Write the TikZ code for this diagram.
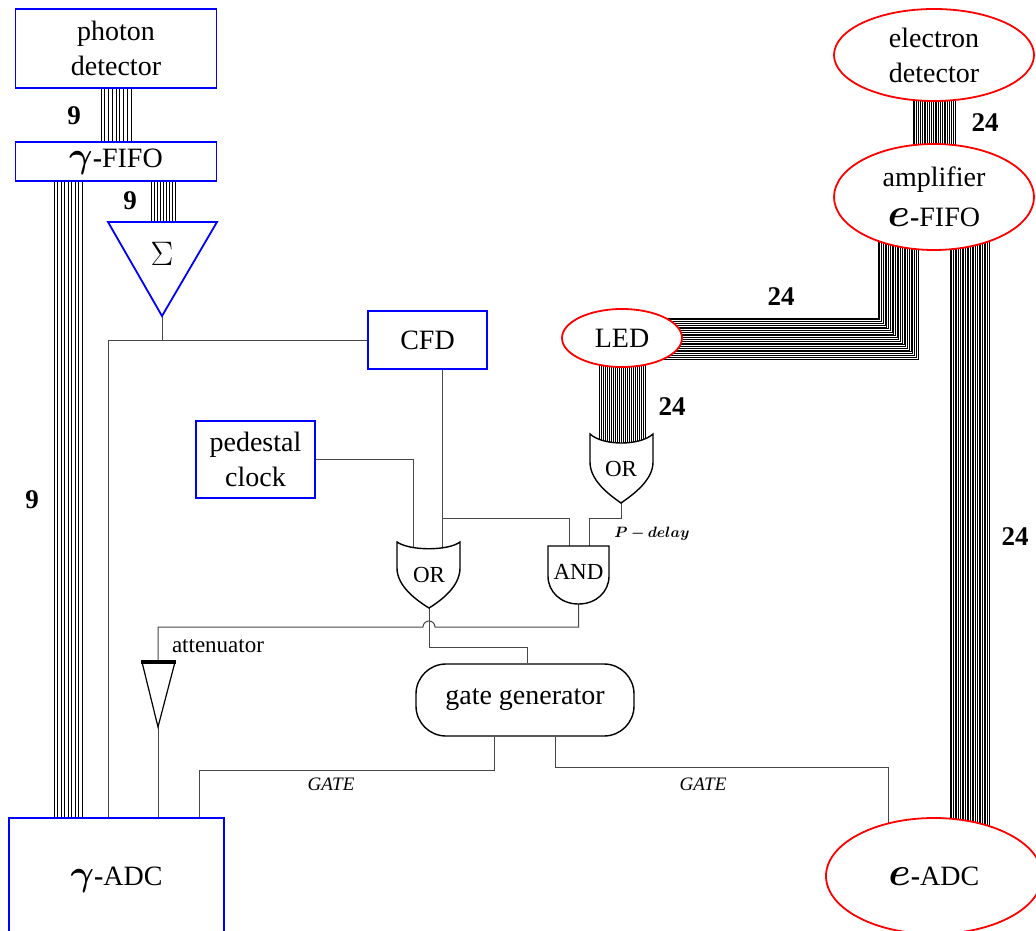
\RequirePackage{fix-cm}
\documentclass[tikz,border=0pt]{standalone}
\usepackage{bm}
\usepackage{graphicx}
\usepackage[no-math]{fontspec}
\setmainfont{Liberation Serif}
\usetikzlibrary{shapes.geometric}
\pgfdeclarelayer{bg}
\pgfsetlayers{bg,main}
\newcommand\mainsz{\fontsize{28}{35}\selectfont}
\newcommand\gsym{{\fontsize{20}{20}\selectfont\scalebox{1.8}{$\bm{\gamma}$}}}
\newcommand\esym{{\fontsize{20}{20}\selectfont\scalebox{2.0}{$\bm{e}$}}}
\newcommand\pdel{$\bm{P-delay}$}
\begin{document}
\begin{tikzpicture}[x=1pt,y=-1pt,
  conn/.style={draw=black!72, line width=1pt},
  wire/.style={draw=black, line width=0.6pt},
  ewire/.style={draw=black, line width=0.8pt},
  bluebox/.style={draw=blue, line width=1.8pt, fill=white, rectangle, inner sep=0pt, align=center, font=\mainsz},
  redell/.style={draw=red, line width=1.8pt, fill=white, ellipse, inner sep=0pt, align=center, font=\mainsz},
  gatesh/.style={draw=black, line width=1.4pt, fill=white},
  num/.style={font=\fontsize{27}{27}\selectfont\bfseries},
  glabel/.style={font=\fontsize{23}{23}\selectfont},
  itlabel/.style={font=\fontsize{19}{19}\selectfont\itshape}
]
\useasboundingbox (0,0) rectangle (1036,931);
\clip (0,0) rectangle (1036,931);

% ---------- nodes ----------
\node[bluebox, minimum width=201pt, minimum height=79pt] (pd) at (116,48.5) {photon\\detector};
\node[bluebox, minimum width=201pt, minimum height=39pt] (fifo) at (116,161.5) {\gsym\textbf{-}FIFO};
\draw[draw=blue, line width=1.8pt, fill=white] (108,222) -- (217,222) -- (162,316) -- cycle;
\coordinate (sigtop) at (162,222);
\coordinate (sigapex) at (162,316);
\node[font=\fontsize{20}{20}\selectfont] (sig) at (162,254) {\scalebox{1.7}{$\Sigma$}};
\node[bluebox, minimum width=119pt, minimum height=58pt] (cfd) at (427.5,340) {CFD};
\node[bluebox, minimum width=119pt, minimum height=77pt] (ped) at (255.5,459.5) {pedestal\\clock};
\node[bluebox, minimum width=215pt, minimum height=124pt] (gadc) at (116.5,880) {\gsym\textbf{-}ADC};

\node[redell, minimum width=200pt, minimum height=92pt] (edet) at (934,55) {electron\\detector};
\node[redell, minimum width=200pt, minimum height=106pt] (amp) at (934,197) {amplifier\\[5pt]\esym\textbf{-}FIFO};
\node[redell, minimum width=120pt, minimum height=58pt] (led) at (622,338) {LED};
\node[redell, minimum width=216pt, minimum height=116pt] (eadc) at (934,876) {\esym\textbf{-}ADC};

\node[draw=black, line width=1.4pt, fill=white, rounded corners=30pt, minimum width=218pt, minimum height=72pt, inner sep=0pt, font=\mainsz] (gg) at (525,700) {gate generator};

% gates
\draw[gatesh] (397,542) .. controls (410,551) and (448,551) .. (460,542) -- (460,568) .. controls (460,586) and (442,600) .. (429,608) .. controls (416,600) and (397,586) .. (397,568) -- cycle;
\node[glabel] (or1) at (429,575) {OR};
\coordinate (or1in1) at (413.5,552);
\coordinate (or1in2) at (442.5,552);
\coordinate (or1out) at (429,608);

\draw[gatesh] (590,434) .. controls (603,446) and (640,446) .. (653,434) -- (653,462) .. controls (653,480) and (634,494) .. (621,503) .. controls (608,494) and (590,480) .. (590,462) -- cycle;
\node[glabel] (or2) at (621,469) {OR};
\coordinate (or2in) at (621,448);
\coordinate (or2out) at (621,503);

\draw[gatesh] (548,546) -- (609,546) -- (609,576) .. controls (609,592) and (596,604) .. (578.5,604) .. controls (561,604) and (548,592) .. (548,576) -- cycle;
\node[glabel] (and) at (578.5,572) {AND};
\coordinate (andin1) at (569,550);
\coordinate (andin2) at (589,550);
\coordinate (andout) at (578.5,604);

% attenuator
\draw[line width=1.2pt, fill=white] (142,662) -- (175,662) -- (158,727) -- cycle;
\draw[line width=4pt] (141,662) -- (176,662);
\coordinate (atttop) at (158,662);
\coordinate (attapex) at (158,727);

% labels
\node[num] (n1) at (74,116) {9};
\node[num] (n2) at (130,201) {9};
\node[num] (n3) at (32,500) {9};
\node[num] (n4) at (985,123) {24};
\node[num] (n5) at (781,297) {24};
\node[num] (n6) at (672,407) {24};
\node[num] (n7) at (1015,537) {24};
\node[font=\fontsize{15}{15}\selectfont] (pdl) at (652,534) {\pdel};
\node[glabel] (attl) at (218,646) {attenuator};
\node[itlabel] (g1) at (331,784) {GATE};
\node[itlabel] (g2) at (703,784) {GATE};

% ---------- connectors (background) ----------
\begin{pgfonlayer}{bg}
  % bundles of 9
  \foreach \i in {0,...,8} {
    \draw[wire] ([xshift={-15pt+\i*3.75pt}]pd.center) -- ([xshift={-15pt+\i*3.75pt}]fifo.center);
    \draw[wire] ([xshift={35pt+\i*3pt}]fifo.center) -- ([xshift={35pt+\i*3pt}]fifo.center |- sig.center);
    \draw[wire] ([xshift={-62pt+\i*3.5pt}]fifo.center) -- ([xshift={-62pt+\i*3.5pt}]fifo.center |- gadc.center);
  }
  % bundles of 24
  \foreach \i in {0,...,23} {
    \draw[ewire] ([xshift={-21pt+\i*1.826pt}]edet.center) -- ([xshift={-21pt+\i*1.826pt}]amp.center);
    \draw[ewire] ([xshift={16pt+\i*1.7pt}]amp.center) -- ([xshift={16pt+\i*1.7pt}]eadc.center);
    \draw[ewire] ([xshift={-56pt+\i*1.74pt}]amp.center) |- ([yshift={20pt-\i*1.78pt}]led.center);
    \draw[ewire] ([xshift={-23pt+\i*2pt}]led.center) -- ([xshift={-23pt+\i*2pt}]led.center |- or2in);
  }
  % signal lines
  \coordinate (j1) at (sigapex |- cfd.west);
  \draw[conn] (sigapex) -- (j1) -- (cfd.west);
  \draw[conn] (j1) -- ([xshift=-8.5pt]gadc.north |- j1) -- ([xshift=-8.5pt]gadc.north);
  \coordinate (j2) at ([xshift=15pt]cfd.south |- 0,518);
  \draw[conn] ([xshift=15pt]cfd.south) -- (or1in2);
  \draw[conn] (j2) -| (andin1);
  \draw[conn] (ped.east) -| (or1in1);
  \draw[conn] (or2out) -- ++(0,15) -| (andin2);
  \coordinate (hop) at (429,627);
  \draw[conn] (andout) |- ([xshift=6pt]hop) arc[start angle=0, end angle=180, radius=6pt] -- (atttop |- hop) -- (atttop);
  \draw[conn] (or1out) -- ++(0,39) -| ([xshift=2pt]gg.north);
  \draw[conn] (attapex) -- (attapex |- gadc.north);
  \draw[conn] ([xshift=-31pt]gg.south) -- ++(0,34) -| ([xshift=82.5pt]gadc.north);
  \draw[conn] ([xshift=30pt]gg.south) -- ++(0,31) -| ([xshift=-46pt]eadc.center);
\end{pgfonlayer}
\end{tikzpicture}
\end{document}
